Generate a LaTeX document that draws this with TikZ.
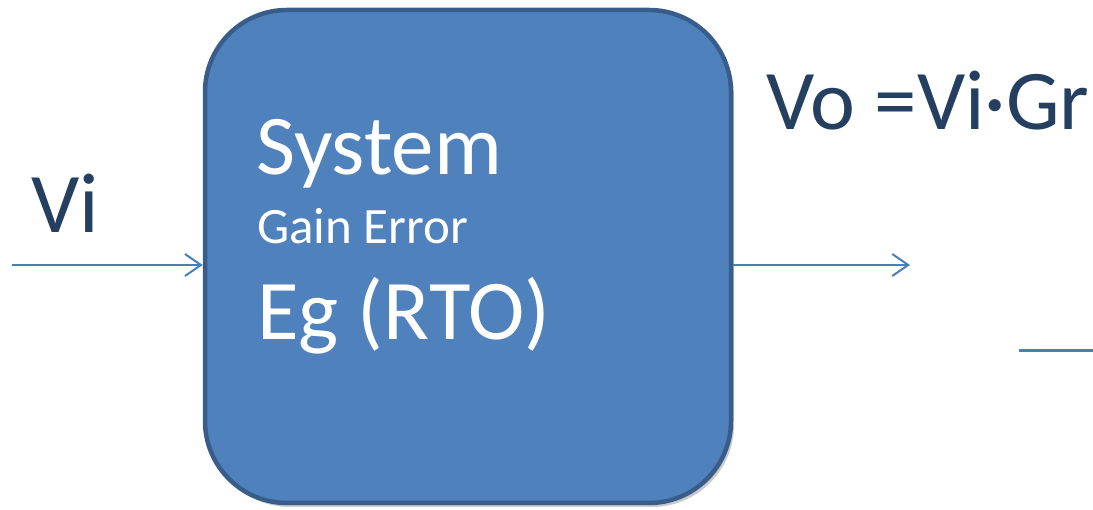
\documentclass[tikz,border=0pt]{standalone}
\usepackage{fontspec}
\setmainfont{Carlito}
\usetikzlibrary{arrows.meta,shadows}
\definecolor{boxfill}{HTML}{4F81BD}
\definecolor{boxline}{HTML}{385D8A}
\definecolor{wire}{HTML}{4A7EBB}
\definecolor{navy}{HTML}{243F60}
\tikzset{
  sysbox/.style={draw=boxline, fill=boxfill, line width=4.5pt, rounded corners=82pt,
    minimum width=526pt, minimum height=493pt, inner sep=0pt,
    drop shadow={shadow xshift=3pt, shadow yshift=-4pt, opacity=0.35, fill=black!60}},
  wirearrow/.style={draw=wire, line width=2pt, -{Straight Barb[length=16pt,width=22pt,line width=2pt]}},
  wireline/.style={draw=wire, line width=3pt},
  bigtxt/.style={anchor=base west, inner sep=0pt, font=\fontsize{85}{100}\selectfont},
  smalltxt/.style={anchor=base west, inner sep=0pt, font=\fontsize{51}{60}\selectfont},
}
\begin{document}
\begin{tikzpicture}[x=1pt,y=-1pt]
\useasboundingbox (0,0) rectangle (1093,510);
\node[sysbox] (box) at (468,256.5) {};
\node[bigtxt, text=white] (sys) at (256,175) {System};
\node[smalltxt, text=white] (gain) at (257,244) {Gain Error};
\node[bigtxt, text=white] (eg) at (257,340) {Eg (RTO)};
\node[bigtxt, text=navy] (vi) at (31,233) {Vi};
\node[bigtxt, text=navy] (vo) at (766,130) {Vo =Vi·Gr};
\coordinate (in) at (12,265);
\coordinate (out) at (910,265);
\coordinate (l1) at (1019,351);
\coordinate (l2) at (1093,351);
\draw[wirearrow] (in) -- (box.west |- in);
\draw[wirearrow] (box.east |- out) -- (out);
\draw[wireline] (l1) -- (l2);
\end{tikzpicture}
\end{document}
